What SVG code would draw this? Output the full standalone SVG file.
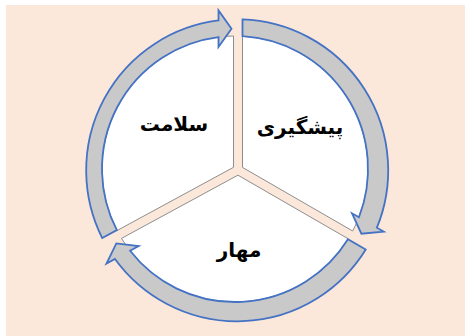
<svg xmlns="http://www.w3.org/2000/svg" width="465" height="336" viewBox="0 0 465 336">
  <style>
    .sector { fill: #FFFFFF; stroke: #8E8E8E; stroke-width: 1; stroke-linejoin: miter; }
    .arrow { fill: #C9C9C9; stroke: #4472C4; stroke-width: 1.8; stroke-linejoin: miter; }
    .label { font-family: "DejaVu Sans", "Noto Sans", sans-serif; font-weight: bold; font-size: 20px; fill: #000000; text-anchor: middle; }
  </style>
  <rect x="0" y="0" width="465" height="336" fill="#FFFFFF"/>
  <rect x="6" y="5" width="459" height="331" fill="#FCE8DA"/>

  <g id="node-pishgiri">
    <path class="sector" d="M 242.5,167.4 L 242.5,36.2 A 133 133 0 0 1 352.66,231.0 Z"/>
    <text class="label" x="300" y="134">پیشگیری</text>
  </g>
  <g id="node-mahar">
    <path class="sector" d="M 237.93,175.16 L 348.2,238.8 A 133 133 0 0 1 121.53,238.36 Z"/>
    <text class="label" x="239" y="257">مهار</text>
  </g>
  <g id="node-salamat">
    <path class="sector" d="M 233.5,167.32 L 117.09,230.53 A 133 133 0 0 1 233.5,36.0 Z"/>
    <text class="label" x="174" y="131">سلامت</text>
  </g>

  <g id="connectors">
    <path class="arrow" d="M 242.5,19.39 A 151 151 0 0 1 376.88,227.67 L 383.75,231.63 L 361.40,233.74 L 352.05,213.33 L 358.92,217.30 A 133 133 0 0 0 242.5,36.21 Z"/>
    <path class="arrow" d="M 365.75,249.53 A 151 151 0 0 1 114.98,258.98 L 106.47,263.61 L 116.34,243.45 L 138.63,246.14 L 130.11,250.77 A 133 133 0 0 0 347.93,239.25 Z"/>
    <path class="arrow" d="M 102.23,238.03 A 151 151 0 0 1 218.5,20.46 L 218.5,10.44 L 231.5,28.74 L 218.5,47.04 L 218.5,37.03 A 133 133 0 0 0 116.86,230.09 Z"/>
  </g>
</svg>
